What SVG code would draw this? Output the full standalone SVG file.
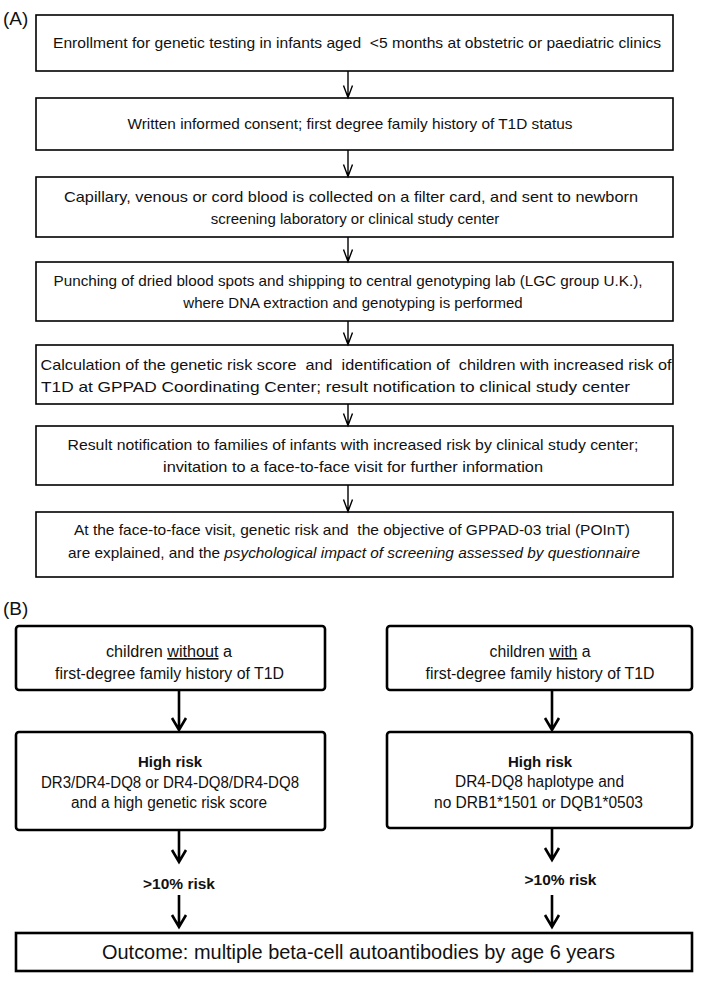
<svg xmlns="http://www.w3.org/2000/svg" width="709" height="987" viewBox="0 0 709 987">
<defs>
<style>
.a{fill:#fff;stroke:#000;stroke-width:1.6}
.b{fill:#fff;stroke:#000;stroke-width:2.6}
.t{font-family:"Liberation Sans",Arial,sans-serif;font-size:15px;fill:#111;text-anchor:middle}
.tb{font-family:"Liberation Sans",Arial,sans-serif;font-size:16px;fill:#111;text-anchor:middle}
.bold{font-weight:bold}
.lab{font-family:"Liberation Sans",Arial,sans-serif;font-size:19px;fill:#111}
.ca{stroke:#000;stroke-width:1.4;fill:none}
.cb{stroke:#000;stroke-width:2.6;fill:none}
</style>
</defs>
<rect width="709" height="987" fill="#fff"/>
<text class="lab" x="3" y="25">(A)</text>
<text class="lab" x="3" y="615">(B)</text>

<g id="a1"><rect class="a" x="36" y="15" width="637" height="56"/>
<text class="t" x="357" y="48" textLength="608" lengthAdjust="spacingAndGlyphs">Enrollment for genetic testing in infants aged &#160;&lt;5 months at obstetric or paediatric clinics</text></g>
<g id="a2"><rect class="a" x="36" y="98" width="637" height="52"/>
<text class="t" x="350" y="129" textLength="445" lengthAdjust="spacingAndGlyphs">Written informed consent; first degree family history of T1D status</text></g>
<g id="a3"><rect class="a" x="36" y="177" width="637" height="60"/>
<text class="t" x="351" y="202" textLength="574" lengthAdjust="spacingAndGlyphs">Capillary, venous or cord blood is collected on a filter card, and sent to newborn</text>
<text class="t" x="355" y="224">screening laboratory or clinical study center</text></g>
<g id="a4"><rect class="a" x="36" y="262" width="637" height="59"/>
<text class="t" x="348" y="286" textLength="589" lengthAdjust="spacingAndGlyphs">Punching of dried blood spots and shipping to central genotyping lab (LGC group U.K.),</text>
<text class="t" x="353" y="308">where DNA extraction and genotyping is performed</text></g>
<g id="a5"><rect class="a" x="36" y="345" width="637" height="59"/>
<text class="t" x="356" y="370" textLength="631" lengthAdjust="spacingAndGlyphs">Calculation of the genetic risk score &#160;and &#160;identification of &#160;children with increased risk of</text>
<text class="t" x="41" y="392" style="text-anchor:start" textLength="589" lengthAdjust="spacingAndGlyphs">T1D at GPPAD Coordinating Center; result notification to clinical study center</text></g>
<g id="a6"><rect class="a" x="36" y="426" width="637" height="59"/>
<text class="t" x="353" y="450" textLength="571" lengthAdjust="spacingAndGlyphs">Result notification to families of infants with increased risk by clinical study center;</text>
<text class="t" x="353" y="472" textLength="380" lengthAdjust="spacingAndGlyphs">invitation to a face-to-face visit for further information</text></g>
<g id="a7"><rect class="a" x="36" y="512" width="637" height="65"/>
<text class="t" x="352" y="535" textLength="556" lengthAdjust="spacingAndGlyphs">At the face-to-face visit, genetic risk and &#160;the objective of GPPAD-03 trial (POInT)</text>
<text class="t" x="354" y="558" textLength="572" lengthAdjust="spacingAndGlyphs">are explained, and the <tspan font-style="italic">psychological impact of screening assessed by questionnaire</tspan></text></g>

<g id="b1"><rect class="b" x="16" y="626" width="309" height="64" rx="3"/>
<text class="tb" x="169" y="657" textLength="126" lengthAdjust="spacingAndGlyphs">children <tspan text-decoration="underline">without</tspan> a</text>
<text class="tb" x="169.5" y="679" textLength="229" lengthAdjust="spacingAndGlyphs">first-degree family history of T1D</text></g>
<g id="b2"><rect class="b" x="387" y="626" width="305" height="64" rx="3"/>
<text class="tb" x="540" y="657" textLength="101" lengthAdjust="spacingAndGlyphs">children <tspan text-decoration="underline">with</tspan> a</text>
<text class="tb" x="540" y="679" textLength="229" lengthAdjust="spacingAndGlyphs">first-degree family history of T1D</text></g>
<g id="b3"><rect class="b" x="16" y="732" width="309" height="98" rx="3"/>
<text class="tb bold" x="170" y="767" style="font-size:15px">High risk</text>
<text class="tb" x="170" y="788" textLength="258" lengthAdjust="spacingAndGlyphs">DR3/DR4-DQ8 or DR4-DQ8/DR4-DQ8</text>
<text class="tb" x="169" y="808" textLength="196" lengthAdjust="spacingAndGlyphs">and a high genetic risk score</text></g>
<g id="b4"><rect class="b" x="387" y="732" width="305" height="96" rx="3"/>
<text class="tb bold" x="540" y="767" style="font-size:15px">High risk</text>
<text class="tb" x="539.5" y="787" textLength="169" lengthAdjust="spacingAndGlyphs">DR4-DQ8 haplotype and</text>
<text class="tb" x="538.5" y="808" textLength="209" lengthAdjust="spacingAndGlyphs">no DRB1*1501 or DQB1*0503</text></g>
<g id="b5"><rect class="b" x="16" y="933" width="676" height="38"/>
<text class="tb" x="358.5" y="959" style="font-size:21px" textLength="513" lengthAdjust="spacingAndGlyphs">Outcome: multiple beta-cell autoantibodies by age 6 years</text></g>

<g id="connectors">
<g class="ca">
<path d="M348 71V97.5M343.5 85.5L348 97.5L352.5 85.5"/>
<path d="M348 150V176.5M343.5 164.5L348 176.5L352.5 164.5"/>
<path d="M348 237V261.5M343.5 249.5L348 261.5L352.5 249.5"/>
<path d="M348 321V344.5M343.5 332.5L348 344.5L352.5 332.5"/>
<path d="M348 404V425.5M343.5 413.5L348 425.5L352.5 413.5"/>
<path d="M348 485V511.5M343.5 499.5L348 511.5L352.5 499.5"/>
</g>
<g class="cb">
<path d="M179 690V730M172 718L179 730L186 718"/>
<path d="M552 690V730M545 718L552 730L559 718"/>
<path d="M179 830V862M172 850L179 862L186 850"/>
<path d="M552 828V860M545 848L552 860L559 848"/>
<path d="M179 895V927M172 915L179 927L186 915"/>
<path d="M552 895V927M545 915L552 927L559 915"/>
</g>
<text class="tb bold" x="179" y="889" style="font-size:15.5px">&gt;10% risk</text>
<text class="tb bold" x="560.5" y="885" style="font-size:15.5px">&gt;10% risk</text>
</g>
</svg>
